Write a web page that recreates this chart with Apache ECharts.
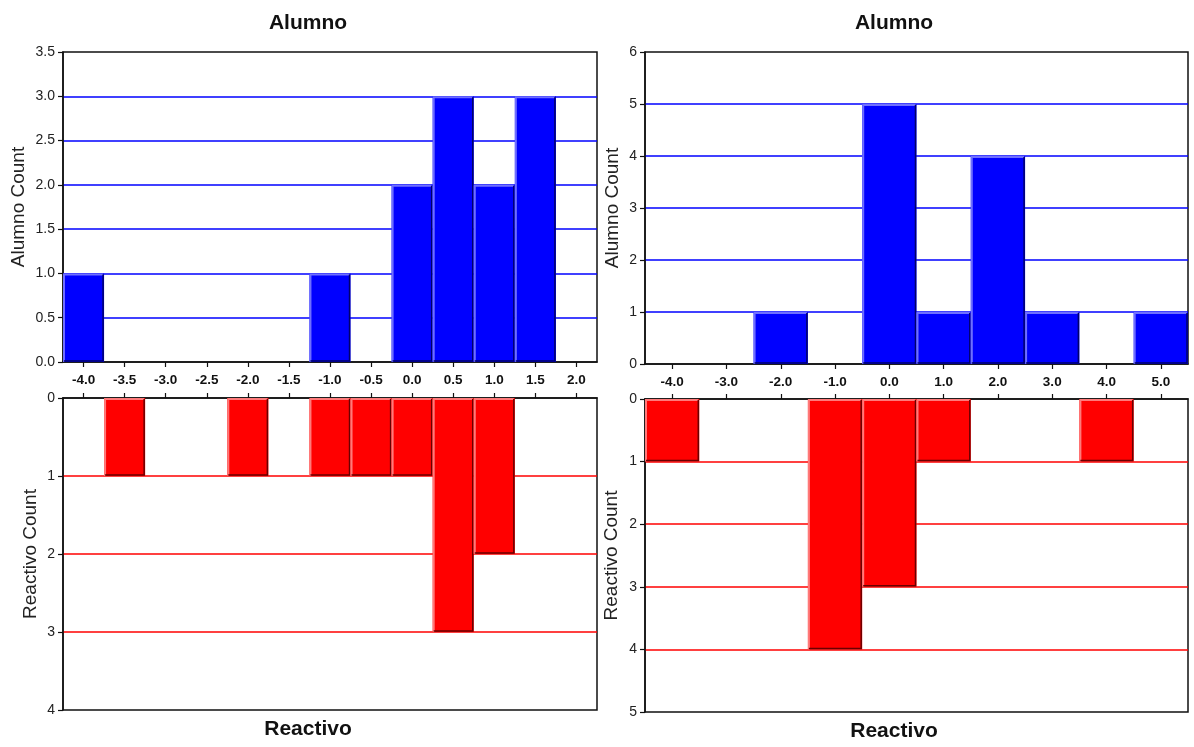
<!DOCTYPE html>
<html>
<head>
<meta charset="utf-8">
<script src="https://cdn.jsdelivr.net/npm/echarts@6/dist/echarts.min.js"></script>
<style>
  html, body { margin: 0; padding: 0; background: #fff; }
  #chart { width: 1194px; height: 747px; }
</style>
</head>
<body>
<div id="chart"></div>
<script>
// Left panel: bins of width 0.5
const leftBins = [-4.0, -3.5, -3.0, -2.5, -2.0, -1.5, -1.0, -0.5, 0.0, 0.5, 1.0, 1.5, 2.0];
const leftAlumno = [1, 0, 0, 0, 0, 0, 1, 0, 2, 3, 2, 3, 0];
const leftReactivo = [0, 1, 0, 0, 1, 0, 1, 1, 1, 3, 2, 0, 0];

// Right panel: bins of width 1
const rightBins = [-4, -3, -2, -1, 0, 1, 2, 3, 4, 5];
const rightAlumno = [0, 0, 1, 0, 5, 1, 4, 1, 0, 1];
const rightReactivo = [1, 0, 0, 4, 3, 1, 0, 0, 1, 0];

const panelTitle = 'Alumno';
const panelFooter = 'Reactivo';
const topAxisName = 'Alumno Count';
const bottomAxisName = 'Reactivo Count';

const FONT = '"Liberation Sans", Arial, sans-serif';
const BLUE = '#0000ff', RED = '#ff0000';

function pairs(bins, vals) { return bins.map((b, i) => [b, vals[i]]); }

// Histogram bar with a bevelled edge: light on left/top, dark on right/bottom
function bevelBar(fill, light, dark, half) {
  return function (params, api) {
    const x = api.value(0), v = api.value(1);
    if (!v) return null;
    const a = api.coord([x - half, 0]);
    const b = api.coord([x + half, v]);
    const l = Math.min(a[0], b[0]), r = Math.max(a[0], b[0]);
    const t = Math.min(a[1], b[1]), btm = Math.max(a[1], b[1]);
    return {
      type: 'group',
      children: [
        { type: 'rect', shape: { x: l, y: t, width: r - l, height: btm - t }, style: { fill: fill } },
        { type: 'polyline', shape: { points: [[l + 1, btm], [l + 1, t + 1], [r - 1, t + 1]] },
          style: { stroke: light, lineWidth: 2, fill: null } },
        { type: 'polyline', shape: { points: [[l + 1, btm - 1], [r - 1, btm - 1], [r - 1, t + 1]] },
          style: { stroke: dark, lineWidth: 1.5, fill: null } }
      ]
    };
  };
}

const frame = { show: true, borderColor: '#111', borderWidth: 1.5, backgroundColor: '#fff' };

function xAxisDef(gridIndex, min, max, ticks, showLabels, position) {
  return {
    type: 'value', gridIndex, min, max, position,
    axisLine: { show: true, onZero: false, lineStyle: { color: '#111', width: 1.5 } },
    axisTick: { show: true, inside: false, length: 5, customValues: ticks, lineStyle: { color: '#111', width: 1.2 } },
    axisLabel: {
      show: showLabels, customValues: ticks, margin: 11,
      formatter: v => v.toFixed(1),
      fontFamily: FONT, fontWeight: 'bold', fontSize: 13.5, color: '#111'
    },
    splitLine: { show: false }
  };
}

function yAxisDef(gridIndex, max, interval, inverse, gridColor, name, nameGap, decimals) {
  return {
    type: 'value', gridIndex, min: 0, max, interval, inverse,
    name, nameLocation: 'middle', nameGap,
    nameTextStyle: { fontFamily: FONT, fontSize: 19, color: '#222' },
    axisLine: { show: true, onZero: false, lineStyle: { color: '#111', width: 1.5 } },
    axisTick: { show: true, length: 5, lineStyle: { color: '#111', width: 1.2 } },
    axisLabel: {
      margin: 8, fontFamily: FONT, fontSize: 14, color: '#222',
      formatter: v => v.toFixed(decimals)
    },
    splitLine: { show: true, showMinLine: false, showMaxLine: false,
      lineStyle: { color: gridColor, width: 1.6 } }
  };
}

const titleStyle = { fontFamily: FONT, fontWeight: 'bold', fontSize: 21, color: '#111' };

const option = {
  animation: false,
  backgroundColor: '#fff',
  title: [
    { text: panelTitle, left: 303, top: 8, textAlign: 'center', textStyle: titleStyle },
    { text: panelTitle, left: 889, top: 8, textAlign: 'center', textStyle: titleStyle },
    { text: panelFooter, left: 303, top: 714, textAlign: 'center', textStyle: titleStyle },
    { text: panelFooter, left: 889, top: 716, textAlign: 'center', textStyle: titleStyle }
  ],
  grid: [
    Object.assign({ left: 63, width: 534, top: 52, height: 310 }, frame),
    Object.assign({ left: 63, width: 534, top: 398, height: 312 }, frame),
    Object.assign({ left: 645, width: 543, top: 52, height: 312 }, frame),
    Object.assign({ left: 645, width: 543, top: 399, height: 313 }, frame)
  ],
  xAxis: [
    xAxisDef(0, -4.25, 2.25, leftBins, true, 'bottom'),
    xAxisDef(1, -4.25, 2.25, leftBins, false, 'top'),
    xAxisDef(2, -4.5, 5.5, rightBins, true, 'bottom'),
    xAxisDef(3, -4.5, 5.5, rightBins, false, 'top')
  ],
  yAxis: [
    yAxisDef(0, 3.5, 0.5, false, BLUE, topAxisName, 35, 1),
    yAxisDef(1, 4, 1, true, RED, bottomAxisName, 23, 0),
    yAxisDef(2, 6, 1, false, BLUE, topAxisName, 23, 0),
    yAxisDef(3, 5, 1, true, RED, bottomAxisName, 24, 0)
  ],
  series: [
    { type: 'custom', xAxisIndex: 0, yAxisIndex: 0, z: 5, clip: true,
      renderItem: bevelBar(BLUE, '#6f6fff', '#00006a', 0.25), data: pairs(leftBins, leftAlumno) },
    { type: 'custom', xAxisIndex: 1, yAxisIndex: 1, z: 5, clip: true,
      renderItem: bevelBar(RED, '#ff7a7a', '#6a0000', 0.25), data: pairs(leftBins, leftReactivo) },
    { type: 'custom', xAxisIndex: 2, yAxisIndex: 2, z: 5, clip: true,
      renderItem: bevelBar(BLUE, '#6f6fff', '#00006a', 0.5), data: pairs(rightBins, rightAlumno) },
    { type: 'custom', xAxisIndex: 3, yAxisIndex: 3, z: 5, clip: true,
      renderItem: bevelBar(RED, '#ff7a7a', '#6a0000', 0.5), data: pairs(rightBins, rightReactivo) }
  ]
};

const chart = echarts.init(document.getElementById('chart'), null, { renderer: 'canvas' });
chart.setOption(option);
</script>
</body>
</html>
